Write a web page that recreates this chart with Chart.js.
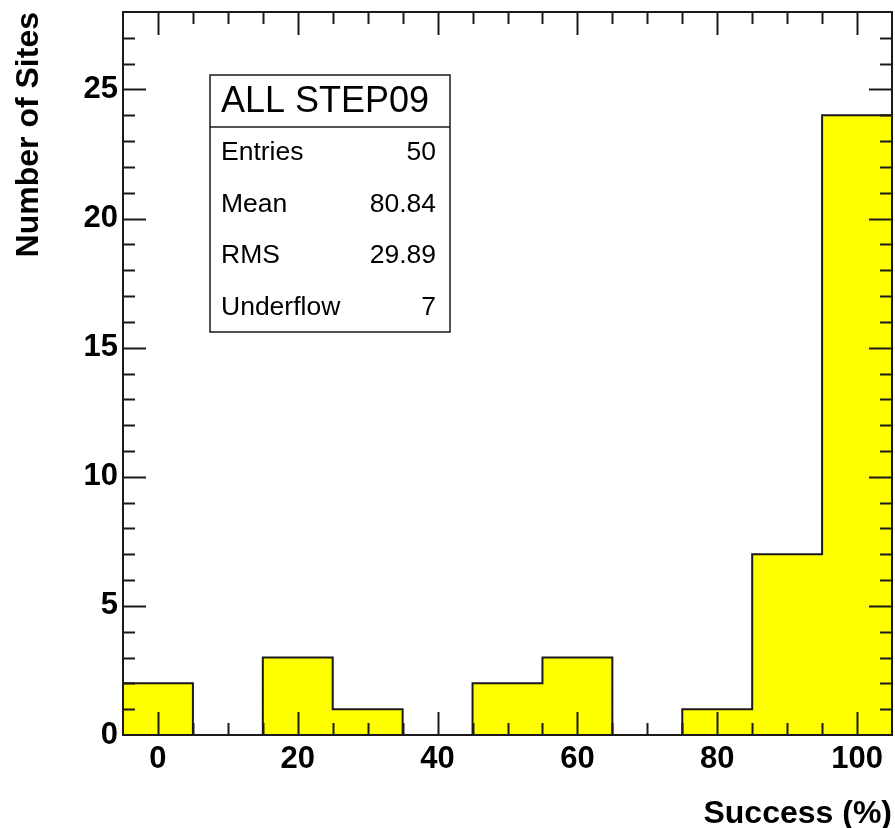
<!DOCTYPE html>
<html>
<head>
<meta charset="utf-8">
<script src="https://cdn.jsdelivr.net/npm/chart.js@4.4.1/dist/chart.umd.min.js"></script>
<style>
  html, body { margin: 0; padding: 0; background: #fff; }
  #wrap { width: 895px; height: 828px; position: relative; }
</style>
</head>
<body>
<div id="wrap"><canvas id="histo"></canvas></div>
<script>
// --- DATA ---
const binEdges = [-5, 5, 15, 25, 35, 45, 55, 65, 75, 85, 95];   // low edge of each bin
const binCounts = [2, 0, 3, 1, 0, 2, 3, 0, 1, 7, 24];
const binWidth = 10;
const xTicks = [0, 20, 40, 60, 80, 100];
const yTicks = [0, 5, 10, 15, 20, 25];
const statTitle = 'ALL STEP09';
const statLabels = ['Entries', 'Mean', 'RMS', 'Underflow'];
const statValues = ['50', '80.84', '29.89', '7'];

const FONT = '"Liberation Sans", Arial, Helvetica, sans-serif';
const INK = '#1a1a1a';

// step outline: each point holds its value up to the next edge
const stepPoints = binEdges.map((e, i) => ({ x: e, y: binCounts[i] }));
stepPoints.push({ x: binEdges[binEdges.length - 1] + binWidth, y: 0 });

// --- ROOT-like frame with ticks pointing inward ---
const rootFrame = {
    id: 'rootFrame',
    afterDatasetsDraw(chart) {
        const { ctx, chartArea: a, scales: { x, y } } = chart;
        ctx.save();
        ctx.strokeStyle = INK;
        ctx.lineWidth = 2;
        ctx.beginPath();
        for (let v = Math.ceil(x.min / 5) * 5; v <= x.max; v += 5) {
            if (v === x.min || v === x.max) continue;
            const px = Math.round(x.getPixelForValue(v)) + 0.5;
            const len = v % 20 === 0 ? 23 : 12;
            ctx.moveTo(px, a.bottom); ctx.lineTo(px, a.bottom - len);
            ctx.moveTo(px, a.top); ctx.lineTo(px, a.top + len);
        }
        for (let v = Math.ceil(y.min); v <= y.max; v += 1) {
            if (v === y.min || v === y.max) continue;
            const py = Math.round(y.getPixelForValue(v)) + 0.5;
            const len = v % 5 === 0 ? 23 : 12;
            ctx.moveTo(a.left, py); ctx.lineTo(a.left + len, py);
            ctx.moveTo(a.right, py); ctx.lineTo(a.right - len, py);
        }
        ctx.stroke();
        ctx.strokeRect(a.left, a.top, a.right - a.left, a.bottom - a.top);
        ctx.restore();
    },
    afterDraw(chart) {
        // stats box
        const ctx = chart.ctx;
        const bx = 210, by = 75, bw = 240, bh = 257, headH = 52, rowH = 51.5;
        ctx.save();
        ctx.fillStyle = '#fff';
        ctx.fillRect(bx, by, bw, bh);
        ctx.strokeStyle = INK;
        ctx.lineWidth = 1.5;
        ctx.strokeRect(bx, by, bw, bh);
        ctx.beginPath();
        ctx.moveTo(bx, by + headH); ctx.lineTo(bx + bw, by + headH);
        ctx.stroke();
        ctx.fillStyle = '#000';
        ctx.textBaseline = 'middle';
        ctx.textAlign = 'left';
        ctx.font = `36px ${FONT}`;
        ctx.fillText(statTitle, bx + 11, by + headH / 2 + 1);
        ctx.font = `26.5px ${FONT}`;
        statLabels.forEach((lab, i) => {
            const ty = by + headH + rowH * (i + 0.5);
            ctx.textAlign = 'left';
            ctx.fillText(lab, bx + 11, ty);
            ctx.textAlign = 'right';
            ctx.fillText(statValues[i], bx + bw - 14, ty);
        });
        ctx.restore();
    }
};

new Chart(document.getElementById('histo'), {
    type: 'line',
    data: {
        datasets: [{
            data: stepPoints,
            stepped: true,
            fill: 'origin',
            backgroundColor: '#ffff00',
            borderColor: INK,
            borderWidth: 2,
            pointRadius: 0
        }]
    },
    options: {
        responsive: true,
        maintainAspectRatio: false,
        animation: false,
        events: [],
        layout: { padding: { top: 12, right: 3, left: 0, bottom: 0 } },
        plugins: { legend: { display: false }, tooltip: { enabled: false } },
        scales: {
            x: {
                type: 'linear',
                min: -5,
                max: 105,
                grid: { display: false, drawTicks: false },
                border: { display: false },
                afterBuildTicks: s => { s.ticks = xTicks.map(v => ({ value: v })); },
                afterFit: s => { s.height = 93; s.paddingLeft = 0; s.paddingRight = 0; },
                ticks: {
                    autoSkip: false, maxRotation: 0, padding: 6, color: '#000',
                    font: { family: FONT, size: 31, weight: 'bold' }
                },
                title: {
                    display: true, text: 'Success (%)', align: 'end', color: '#000',
                    padding: { top: 0, bottom: -2 },
                    font: { family: FONT, size: 32, weight: 'bold', lineHeight: 1 }
                }
            },
            y: {
                min: 0,
                max: 28,
                grid: { display: false, drawTicks: false },
                border: { display: false },
                afterBuildTicks: s => { s.ticks = yTicks.map(v => ({ value: v })); },
                afterFit: s => { s.width = 123; s.paddingTop = 0; s.paddingBottom = 0; },
                ticks: {
                    autoSkip: false, padding: 5, color: '#000',
                    font: { family: FONT, size: 31, weight: 'bold' }
                },
                title: {
                    display: true, text: 'Number of Sites', align: 'end', color: '#000',
                    padding: { top: 13, bottom: 0 },
                    font: { family: FONT, size: 32, weight: 'bold', lineHeight: 1 }
                }
            }
        }
    },
    plugins: [rootFrame]
});
</script>
</body>
</html>
